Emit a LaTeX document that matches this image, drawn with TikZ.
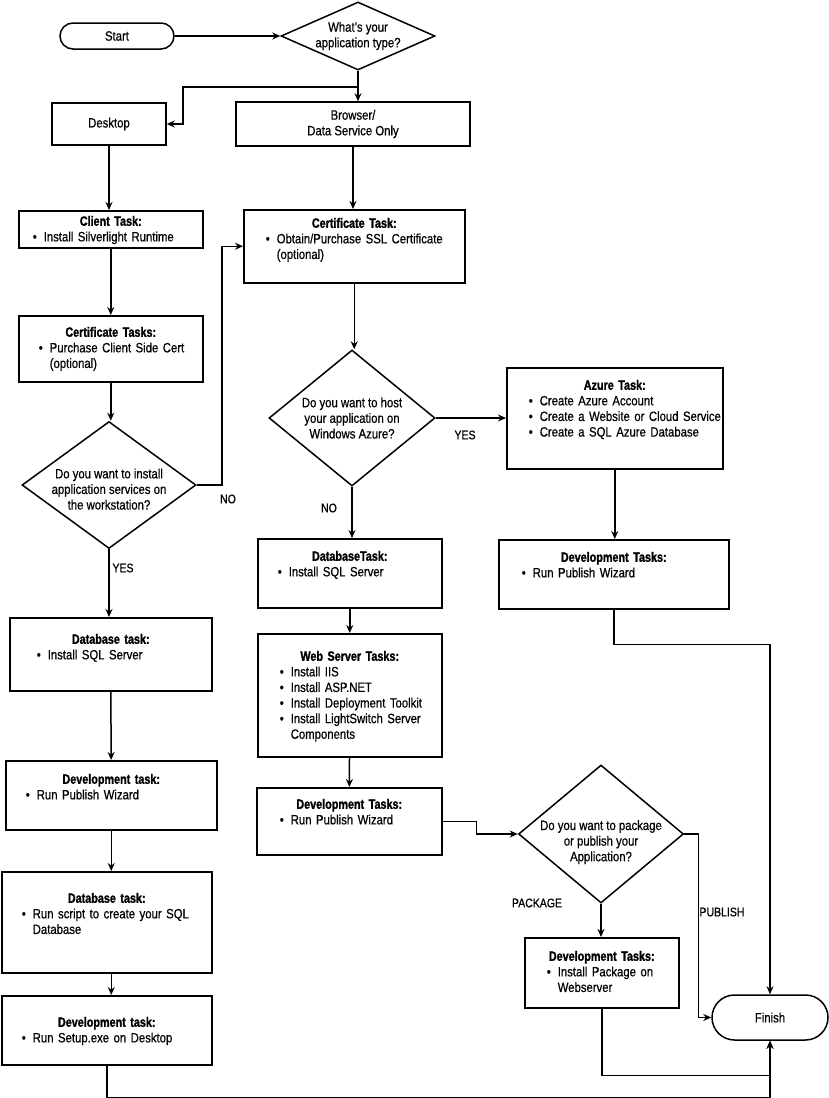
\documentclass[tikz,border=0pt]{standalone}
\usepackage{fontspec}
\setmainfont{Liberation Sans}[FakeStretch=0.84,FakeBold=0.6]
\newfontfamily\titlefont{Liberation Sans}[FakeStretch=0.80,FakeBold=1.4]
\usepackage{enumitem}
\usetikzlibrary{arrows.meta,shapes.geometric}

% body of a task box: title, bullet indent, items
\newcommand{\taskbody}[3]{{\centering\titlefont\bfseries #1\par}%
  \begin{itemize}[nosep,leftmargin=#2,labelsep=7pt,label=\textbullet]#3\end{itemize}}

\begin{document}
\begin{tikzpicture}[x=1pt, y=-1pt, line width=1.5pt,
  every node/.style={font=\fontsize{13.5}{15.6}\selectfont},
  task/.style={draw, anchor=north west, inner sep=0pt, align=left},
  plain/.style={draw, inner sep=0pt, align=center},
  term/.style={draw, rounded corners=#1, inner sep=0pt},
  term/.default=13pt,
  decision/.style={draw, diamond, inner sep=-14pt, align=center},
  arr/.style={-{Stealth[length=8pt,width=7pt]}},
  lbl/.style={inner sep=0pt, font=\fontsize{12.5}{14}\selectfont}]
  \useasboundingbox (0,0) rectangle (829,1098);

  % top
  \node[term, minimum width=114pt, minimum height=26pt] (start) at (117,36) {Start};
  \node[decision, minimum width=154pt, minimum height=68pt] (apptype) at (358,36) {What’s your\\application type?};
  \node[plain, minimum width=114pt, minimum height=42pt] (desktop) at (109,124) {Desktop};
  \node[plain, minimum width=234pt, minimum height=44pt] (browser) at (353,124) {Browser/\\Data Service Only};

  % desktop column
  \node[task, text width=184pt, text height=15pt, text depth=22pt] (client) at (18,210)
    {\taskbody{Client Task:}{25pt}{\item Install Silverlight Runtime}};
  \node[task, text width=184pt, text height=21pt, text depth=45pt] (certL) at (18,315)
    {\taskbody{Certificate Tasks:}{31pt}{\item Purchase Client Side Cert\\(optional)}};
  \node[decision, minimum width=174pt, minimum height=127pt] (install) at (109,485)
    {\rule{0pt}{18pt}Do you want to install\\application services on\\the workstation?};
  \node[task, text width=202pt, text height=26pt, text depth=47pt] (dbL) at (9,617)
    {\taskbody{Database task:}{38pt}{\item Install SQL Server}};
  \node[task, text width=211pt, text height=23pt, text depth=46pt] (devL) at (5,760)
    {\taskbody{Development task:}{31pt}{\item Run Publish Wizard}};
  \node[task, text width=210pt, text height=31pt, text depth=70pt] (dbScript) at (1,871)
    {\taskbody{Database task:}{31pt}{\item Run script to create your SQL\\Database}};
  \node[task, text width=210pt, text height=31pt, text depth=38pt] (devSetup) at (1,995)
    {\taskbody{Development task:}{31pt}{\item Run Setup.exe on Desktop}};

  % browser column
  \node[task, text width=221pt, text height=18pt, text depth=55pt] (certR) at (243,209)
    {\taskbody{Certificate Task:}{33pt}{\item Obtain/Purchase SSL Certificate\\(optional)}};
  \node[decision, minimum width=166pt, minimum height=136pt] (host) at (352,418)
    {Do you want to host\\your application on\\Windows Azure?};
  \node[task, text width=216pt, text height=22pt, text depth=79pt] (azure) at (506,367)
    {\taskbody{Azure Task:}{33pt}{\item Create Azure Account
      \item Create a Website or Cloud Service
      \item Create a SQL Azure Database}};
  \node[task, text width=230pt, text height=22pt, text depth=47pt] (devR) at (498,539)
    {\taskbody{Development Tasks:}{34pt}{\item Run Publish Wizard}};
  \node[task, text width=184pt, text height=22pt, text depth=47pt] (dbR) at (257,538)
    {\taskbody{DatabaseTask:}{31pt}{\item Install SQL Server}};
  \node[task, text width=184pt, text height=27pt, text depth=96pt] (webR) at (257,633)
    {\taskbody{Web Server Tasks:}{33pt}{\item Install IIS
      \item Install ASP.NET
      \item Install Deployment Toolkit
      \item Install LightSwitch Server\\Components}};
  \node[task, text width=185pt, text height=21pt, text depth=46pt] (devM) at (256,787)
    {\taskbody{Development Tasks:}{34pt}{\item Run Publish Wizard}};
  \node[decision, minimum width=165pt, minimum height=138pt] (pubq) at (601,834)
    {\rule{0pt}{26pt}Do you want to package\\or publish your\\Application?};
  \node[task, text width=154pt, text height=23pt, text depth=47pt] (devPkg) at (524,937)
    {\taskbody{Development Tasks:}{33pt}{\item Install Package on\\Webserver}};
  \node[term=22.5pt, minimum width=116pt, minimum height=45pt] (finish) at (770,1017.5) {Finish};

  % branch labels
  \node[lbl] (noL) at (228,499) {NO};
  \node[lbl] (yesL) at (123,568) {YES};
  \node[lbl] (noR) at (329,508) {NO};
  \node[lbl] (yesR) at (465,435) {YES};
  \node[lbl] (pkgL) at (537,903) {PACKAGE};
  \node[lbl] (pubL) at (722,912) {PUBLISH};

  % connectors
  \coordinate (fork) at (358,87);
  \draw[arr] (start) -- (apptype);
  \draw (apptype.south) -- (fork);
  \draw[arr] (fork) -- (183,87) |- (desktop.east);
  \draw[arr] (fork) -- (fork |- browser.north);
  \draw[arr] (desktop.south) -- (desktop.south |- client.north);
  \draw[arr] (client) -- (certL);
  \draw[arr] (certL.south) -- (certL.south |- install.north);
  \draw[arr] (install.east) -- ++(25,0) |- (certR.west);
  \draw[arr] (install.south) -- (install.south |- dbL.north);
  \draw[arr] (dbL) -- (devL);
  \draw[arr] (devL.south) -- (devL.south |- dbScript.north);
  \draw[arr] (devL.south |- dbScript.south) -- (devL.south |- devSetup.north);
  \draw[arr] (browser.south) -- (browser.south |- certR.north);
  \draw[arr] (certR.south) -- (certR.south |- host.north);
  \draw[arr] (host.east) -- (host.east -| azure.west);
  \draw[arr] (azure.south) -- (azure.south |- devR.north);
  \draw[arr] (host.south) -- (host.south |- dbR.north);
  \draw[arr] (dbR) -- (webR);
  \draw[arr] (webR) -- (devM);
  \draw[arr] (devM.east) -- ++(34,0) |- (pubq.west);
  \draw[arr] (pubq.south) -- (pubq.south |- devPkg.north);
  \draw[arr] (pubq.east) -- ++(14,0) |- (finish.west);
  \draw[arr] (devR.south) -- ++(0,35) -| (finish.north);
  \draw[arr] (devPkg.south) -- ++(0,67) -| (finish.south);
  \draw[arr] (devSetup.south) -- ++(0,32) -| (finish.south);
\end{tikzpicture}
\end{document}
